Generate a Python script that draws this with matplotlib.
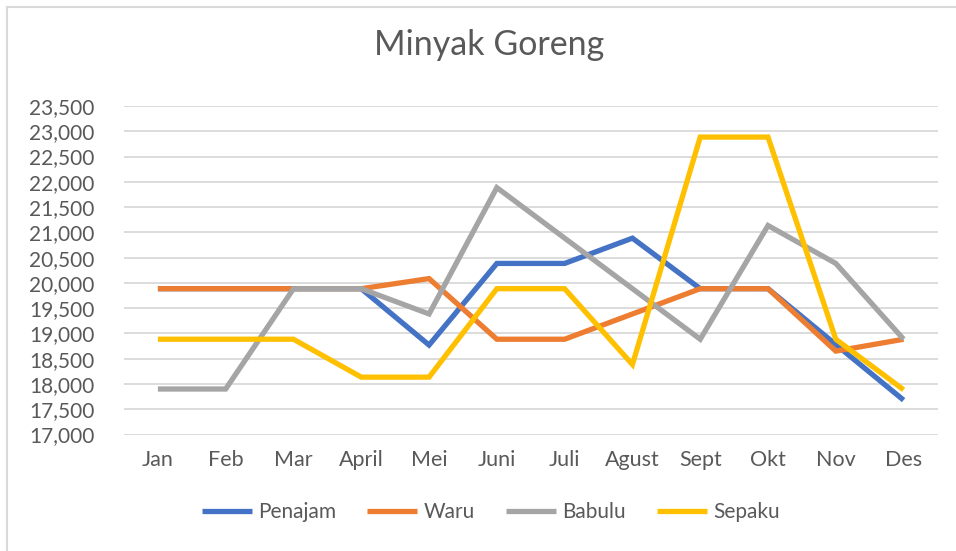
import matplotlib.pyplot as plt
from matplotlib.lines import Line2D
from matplotlib.ticker import FuncFormatter, MultipleLocator

plt.rcParams['font.family'] = ['Lato', 'DejaVu Sans']

# data
months = ["Jan", "Feb", "Mar", "April", "Mei", "Juni", "Juli", "Agust", "Sept", "Okt", "Nov", "Des"]
penajam = [None, None, None, 19885, 18770, 20385, 20385, 20885, 19885, 19885, 18780, 17680]
waru = [19885, 19885, 19885, 19885, 20085, 18885, 18885, 19385, 19885, 19885, 18650, 18885]
babulu = [17900, 17900, 19885, 19885, 19385, 21885, 20885, 19885, 18885, 21135, 20385, 18885]
sepaku = [18885, 18885, 18885, 18135, 18135, 19885, 19885, 18385, 22885, 22885, 18885, 17885]

# blue line is hidden under the orange one for Jan-Mar; reuse waru values there
penajam = [w if p is None else p for p, w in zip(penajam, waru)]

series = [
    ("Penajam", penajam, "#4472C4"),
    ("Waru", waru, "#ED7D31"),
    ("Babulu", babulu, "#A5A5A5"),
    ("Sepaku", sepaku, "#FFC000"),
]

fig = plt.figure(figsize=(9.56, 5.51), dpi=100)
ax = fig.add_axes([124 / 956, 1 - 434.5 / 551, (937.5 - 124) / 956, (434.5 - 106) / 551])

x = list(range(len(months)))
for name, vals, col in series:
    ax.plot(x, vals, color=col, lw=3.8, label=name, solid_joinstyle='miter', solid_capstyle='butt')

ax.set_xlim(-0.5, len(months) - 0.5)
ax.set_ylim(17000, 23500)
ax.yaxis.set_major_locator(MultipleLocator(500))
ax.yaxis.set_major_formatter(FuncFormatter(lambda v, p: f"{int(v):,}"))
ax.set_xticks(x)
ax.set_xticklabels(months)
ax.grid(axis='y', color='#D9D9D9', lw=1.3)
ax.set_axisbelow(True)
for s in ax.spines.values():
    s.set_visible(False)
ax.tick_params(axis='y', length=0, pad=21, labelsize=15, labelcolor='#595959')
ax.tick_params(axis='x', length=0, pad=11, labelsize=15.5, labelcolor='#595959')

fig.text(489 / 956, 1 - 45 / 551, "Minyak Goreng", ha='center', va='center', fontsize=24.5, color='#595959')

handles = [Line2D([], [], color=c, lw=3.8, solid_capstyle='butt') for _, _, c in series]
fig.legend(handles, [n for n, _, _ in series], loc='center', bbox_to_anchor=(491 / 956, 1 - 512 / 551),
           ncol=4, frameon=False, fontsize=15, handlelength=2.4, handletextpad=0.3, columnspacing=1.5,
           labelcolor='#595959')

# chart area border (only top and left edges are visible)
fig.add_artist(Line2D([7 / 956, 1], [1 - 6.5 / 551, 1 - 6.5 / 551], transform=fig.transFigure, color='#D9D9D9', lw=1.5))
fig.add_artist(Line2D([6.5 / 956, 6.5 / 956], [0, 1 - 6.5 / 551], transform=fig.transFigure, color='#D9D9D9', lw=1.5))

fig.savefig("out.png", dpi=100)
